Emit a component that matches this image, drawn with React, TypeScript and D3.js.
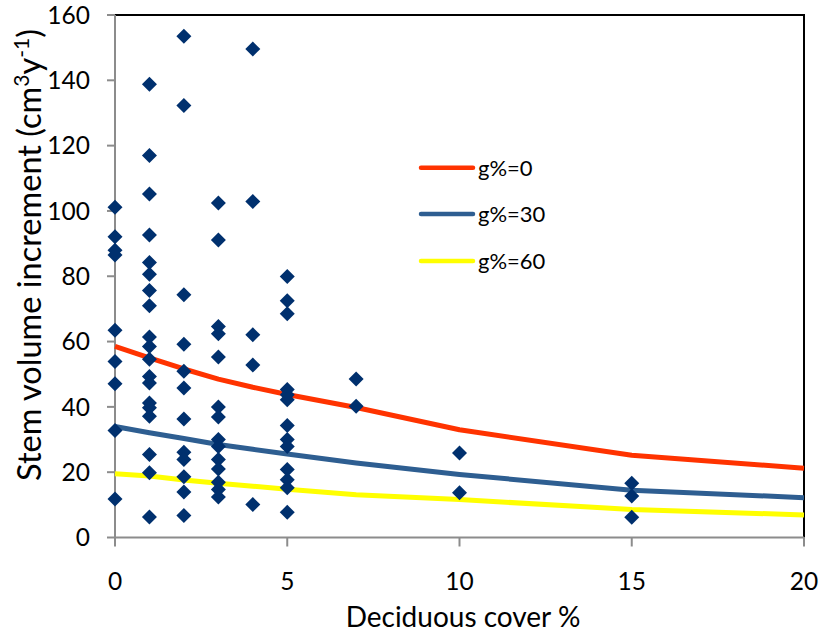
import React from "react";
import * as d3 from "d3";

const ys0 = [101.1, 92.1, 88, 86.5, 63.5, 53.9, 47.1, 32.8, 11.8];
const ys1 = [138.8, 117, 105.2, 92.6, 84.2, 80.6, 75.6, 71, 61.4, 58.5, 54.6, 49.3, 47.3, 41.2, 39.7, 37.1, 25.4, 19.8, 6.3];
const ys2 = [153.5, 132.3, 74.3, 59.2, 50.9, 45.8, 36.3, 26.1, 23.9, 18.6, 13.9, 6.7];
const ys3 = [102.4, 91.1, 64.6, 62.4, 55.3, 40, 36.9, 30, 27.9, 23.9, 21, 16.9, 14.7, 12.4];
const ys4 = [149.6, 102.9, 62.1, 52.8, 10.1];
const ys5 = [79.9, 72.5, 68.5, 45.3, 43.7, 42.2, 34.3, 30, 27.9, 20.8, 17.7, 15.2, 7.7];
const ys7 = [48.5, 40.2];
const ys10 = [25.9, 13.7];
const ys15 = [16.6, 12.7, 6.2];

const groupX = [0, 1, 2, 3, 4, 5, 7, 10, 15];
const groupY = [ys0, ys1, ys2, ys3, ys4, ys5, ys7, ys10, ys15];

const curveX = [0, 1, 2, 3, 4, 5, 7, 10, 15, 20];
const curveG0 = [58.5, 55, 51.6, 48.5, 46, 43.8, 39.8, 33, 25.2, 21.2];
const curveG30 = [34, 32.1, 30.3, 28.5, 27, 25.6, 22.8, 19.3, 14.5, 12.2];
const curveG60 = [19.5, 18.8, 17.6, 16.6, 15.7, 14.8, 13.1, 11.6, 8.6, 6.9];

const seriesNames = ["g%=0", "g%=30", "g%=60"];
const seriesColors = ["#FF3300", "#2E5E91", "#FFFF00"];
const xTicks = [0, 5, 10, 15, 20];
const yTicks = [0, 20, 40, 60, 80, 100, 120, 140, 160];

const W = 821;
const H = 632;
const L = 115, R = 804, T = 15, B = 537.5;
const FONT = "Lato, 'Open Sans', sans-serif";

export default function App() {
  const x = d3.scaleLinear().domain([0, 20]).range([L, R]);
  const y = d3.scaleLinear().domain([0, 160]).range([B, T]);
  const line = d3.line<[number, number]>().x(d => x(d[0])).y(d => y(d[1]));
  const curves = [curveG0, curveG30, curveG60];
  const points: [number, number][] = [];
  groupX.forEach((gx, i) => groupY[i].forEach(v => points.push([gx, v])));
  const diamond = (cx: number, cy: number, r: number) =>
    `M${cx},${cy - r}L${cx + r},${cy}L${cx},${cy + r}L${cx - r},${cy}Z`;
  const legendY = [167.7, 214, 261];

  return (
    <svg width={W} height={H} style={{ position: "absolute", left: 0, top: 0, background: "#fff" }} fontFamily={FONT}>
      <rect x={0} y={0} width={W} height={H} fill="#fff" />
      <path d={`M${L},${T}H${R}V${B}`} fill="none" stroke="#000" strokeWidth={2} />
      <line x1={L} x2={L} y1={T} y2={B} stroke="#8c8c8c" strokeWidth={2} />
      <line x1={L} x2={R} y1={B} y2={B} stroke="#8c8c8c" strokeWidth={2} />
      {yTicks.map(t => (
        <g key={"y" + t}>
          <line x1={L - 8} x2={L} y1={y(t)} y2={y(t)} stroke="#8c8c8c" strokeWidth={2} />
          <text x={90} y={y(t)} dy="0.36em" textAnchor="end" fontSize={24.5} fill="#000">{t}</text>
        </g>
      ))}
      {xTicks.map(t => (
        <g key={"x" + t}>
          <line x1={x(t)} x2={x(t)} y1={B} y2={B + 9} stroke="#8c8c8c" strokeWidth={2} />
          <text x={x(t)} y={590} textAnchor="middle" fontSize={24.5} fill="#000">{t}</text>
        </g>
      ))}
      {curves.map((c, i) => (
        <path key={"c" + i} d={line(curveX.map((v, j) => [v, c[j]]) as [number, number][]) || ""}
          fill="none" stroke={seriesColors[i]} strokeWidth={5} strokeLinejoin="round" />
      ))}
      {points.map((p, i) => (
        <path key={"p" + i} d={diamond(x(p[0]), y(p[1]), 7.5)} fill="#00306E" />
      ))}
      {seriesNames.map((n, i) => (
        <g key={"l" + i}>
          <line x1={421} x2={473} y1={legendY[i]} y2={legendY[i]} stroke={seriesColors[i]} strokeWidth={4.5} strokeLinecap="round" />
          <text x={478} y={legendY[i]} dy="0.36em" fontSize={22} fill="#000">{n}</text>
        </g>
      ))}
      <text x={463} y={627} textAnchor="middle" fontSize={28} fill="#000">Deciduous cover %</text>
      <text transform={`translate(41,255) rotate(-90)`} textAnchor="middle" fontSize={32.5} fill="#000">
        Stem volume increment (cm<tspan dy={-12} fontSize={21}>3</tspan><tspan dy={12}>y</tspan><tspan dy={-12} fontSize={21}>-1</tspan><tspan dy={12}>)</tspan>
      </text>
    </svg>
  );
}
